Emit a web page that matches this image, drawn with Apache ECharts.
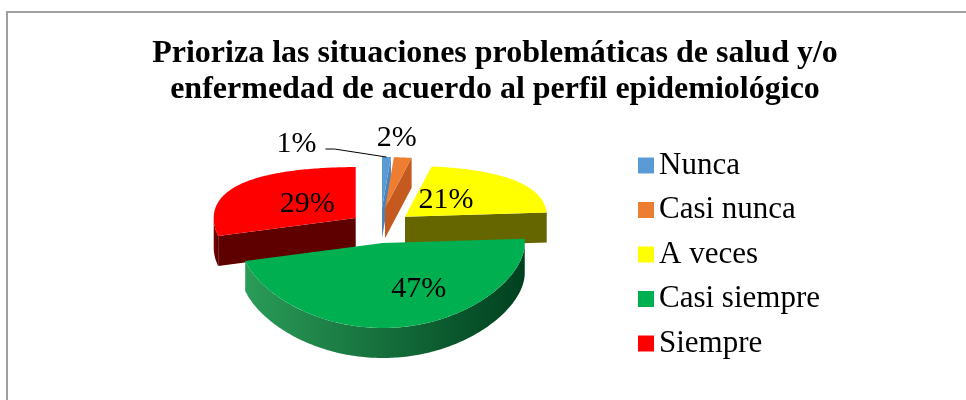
<!DOCTYPE html>
<html>
<head>
<meta charset="utf-8">
<script src="https://cdn.jsdelivr.net/npm/echarts@6/dist/echarts.min.js"></script>
<style>
html, body { margin: 0; padding: 0; background: #fff; }
#chart { width: 966px; height: 400px; }
</style>
</head>
<body>
<div id="chart"></div>
<script>
const categories = ['Nunca', 'Casi nunca', 'A veces', 'Casi siempre', 'Siempre']
const percents = [1, 2, 21, 47, 29]

// colores: cara superior, paredes radiales, pared exterior (claro -> oscuro)
const topColors = ['#5B9BD5', '#ED7D31', '#FFFF00', '#00B050', '#FF0000']
const sideColors = ['#4A84BA', '#C45A1F', '#666600', '#00652E', '#5E0000']
const rimShades = [
    ['#4A84BA', '#2F5E8A'],
    ['#C45A1F', '#8F3E12'],
    ['#8A8A00', '#555500'],
    ['#2A9C58', '#00401F'],
    ['#7A0000', '#5A0000'],
]
const pullOut = [1, 1, 1, 0.35, 1] // separación de cada porción
const labelOut = [
    { dx: -70, dy: -13, leader: true },
    { dx: -6, dy: -19 },
    null,
    null,
    null,
]
const labelNudge = [[0, 0], [0, 0], [-7, 0], [26, 8], [2, 2]]

const pie = { cx: 381, cy: 234, rx: 142, ryBack: 51, ryFront: 85, depth: 30, pullX: 32, pullY: 26 }
const rad = Math.PI / 180
const total = percents.reduce((s, v) => s + v, 0)
const starts = []
let acc = 0
percents.forEach(v => {
    starts.push(acc / total * 360)
    acc += v
})
const mids = percents.map((v, i) => starts[i] + v / total * 180)
// orden de dibujo: de atrás hacia adelante
const order = mids.map((m, i) => i).sort((a, b) => -Math.cos(mids[a] * rad) + Math.cos(mids[b] * rad))
const frontRank = []
order.forEach((idx, r) => { frontRank[idx] = r })

// punto sobre el borde (ángulo en grados, 0 = arriba, sentido horario)
const rim = (v, deg, k) => {
    const c = Math.cos(deg * rad)
    const a = (pie.ryBack + pie.ryFront) / 2
    const b = (pie.ryBack - pie.ryFront) / 2
    return [v[0] + k * pie.rx * Math.sin(deg * rad), v[1] - k * c * (a + b * c)]
}
const down = p => [p[0], p[1] + pie.depth]

const slice = i => (params, api) => {
    const a0 = starts[i]
    const a1 = a0 + api.value(0) / total * 360
    const mid = (a0 + a1) / 2
    const v = [
        pie.cx + Math.sin(mid * rad) * pie.pullX * pullOut[i],
        pie.cy - Math.cos(mid * rad) * pie.pullY * pullOut[i],
    ]
    const arc = (from, to) => {
        const pts = []
        const n = Math.max(2, Math.ceil(to - from))
        for (let k = 0; k <= n; k++) {
            pts.push(rim(v, from + (to - from) * k / n, 1))
        }
        return pts
    }
    const children = []
    // pared exterior (solo la parte frontal)
    const lo = Math.max(a0, 90)
    const hi = Math.min(a1, 270)
    if (hi > lo) {
        const edge = arc(lo, hi)
        children.push({
            type: 'polygon',
            z2: 1,
            shape: { points: edge.concat(edge.slice().reverse().map(down)) },
            style: {
                fill: new echarts.graphic.LinearGradient(0, 0, 1, 0, [
                    { offset: 0, color: rimShades[i][0] },
                    { offset: 1, color: rimShades[i][1] },
                ]),
            },
        })
    }
    // paredes radiales visibles
    const wall = deg => {
        const p = rim(v, deg, 1)
        children.push({
            type: 'polygon',
            z2: 1,
            shape: { points: [v, p, down(p), down(v)] },
            style: { fill: sideColors[i] },
        })
    }
    if (Math.sin(a0 * rad) < -1e-6) wall(a0)
    if (Math.sin(a1 * rad) > 1e-6) wall(a1)
    // cara superior
    children.push({
        type: 'polygon',
        z2: 2,
        shape: { points: [v].concat(arc(a0, a1)) },
        style: { fill: topColors[i] },
    })
    // etiqueta
    const text = api.value(0) + '%'
    const font = '30px "Liberation Serif"'
    const out = labelOut[i]
    if (out) {
        const p = rim(v, mid, 1)
        const lx = p[0] + out.dx
        const ly = p[1] + out.dy
        children.push({
            type: 'text',
            z2: 3,
            style: { text, x: lx, y: ly, align: out.leader ? 'right' : 'center', verticalAlign: 'middle', font, fill: '#000' },
        })
        if (out.leader) {
            children.push({
                type: 'polyline',
                z2: 3,
                shape: { points: [[lx + 9, ly + 5], [lx + 18, ly + 5], p] },
                style: { stroke: '#000', lineWidth: 1, fill: null },
            })
        }
    } else {
        const p = rim(v, mid, 0.45)
        children.push({
            type: 'text',
            z2: 3,
            style: {
                text,
                x: p[0] + labelNudge[i][0],
                y: p[1] + labelNudge[i][1],
                align: 'center',
                verticalAlign: 'middle',
                font,
                fill: '#000',
            },
        })
    }
    return { type: 'group', children }
}

const chart = echarts.init(document.getElementById('chart'))
chart.setOption({
    animation: false,
    backgroundColor: '#fff',
    graphic: [
        {
            type: 'rect',
            shape: { x: 7, y: 12, width: 1000, height: 500 },
            style: { fill: null, stroke: '#A0A0A0', lineWidth: 2 },
            silent: true,
        },
    ],
    title: {
        text: 'Prioriza las situaciones problemáticas de salud y/o\nenfermedad de acuerdo al perfil epidemiológico',
        left: 490,
        top: 31,
        textAlign: 'center',
        textStyle: {
            fontFamily: 'Liberation Serif',
            fontWeight: 'bold',
            fontSize: 32,
            lineHeight: 36,
            color: '#000',
        },
    },
    legend: {
        orient: 'vertical',
        left: 633,
        top: 145,
        icon: 'rect',
        itemWidth: 16,
        itemHeight: 16,
        itemGap: 13.5,
        textStyle: {
            fontFamily: 'Liberation Serif',
            fontSize: 31,
            lineHeight: 30,
            color: '#000',
        },
        data: categories,
    },
    series: categories.map((name, i) => ({
        type: 'custom',
        name,
        coordinateSystem: 'none',
        z: 2 + frontRank[i],
        silent: true,
        itemStyle: { color: topColors[i] },
        renderItem: slice(i),
        data: [[percents[i]]],
    })),
})
</script>
</body>
</html>
